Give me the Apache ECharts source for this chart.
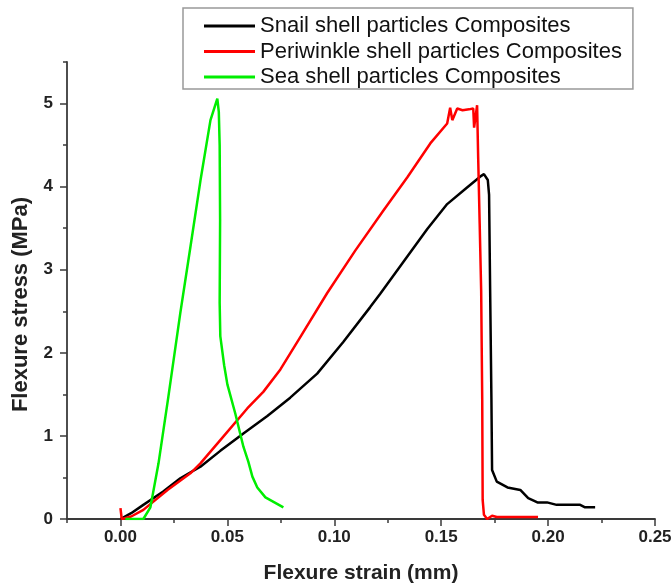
<!DOCTYPE html>
<html>
<head>
<meta charset="utf-8">
<script src="https://cdn.jsdelivr.net/npm/echarts@6/dist/echarts.min.js"></script>
<style>
html,body{margin:0;padding:0;background:#fff;}
#chart{width:672px;height:585px;}
</style>
</head>
<body>
<div id="chart"></div>
<script>
// ---- data ----
const seriesNames = ['Snail shell particles Composites', 'Periwinkle shell particles Composites', 'Sea shell particles Composites'];

const snailStrain = [0.000, 0.005, 0.0107, 0.020, 0.028, 0.0374, 0.0467, 0.0575, 0.0687, 0.0794, 0.092, 0.1042, 0.1168, 0.1215, 0.1322, 0.1435, 0.1528, 0.1621, 0.1682, 0.1700, 0.1718, 0.1724, 0.1729, 0.1735, 0.1738, 0.1760, 0.181, 0.187, 0.1907, 0.195, 0.1995, 0.204, 0.215, 0.2173, 0.222];
const snailStress = [0.00, 0.07, 0.17, 0.33, 0.49, 0.63, 0.82, 1.03, 1.24, 1.46, 1.75, 2.13, 2.55, 2.71, 3.09, 3.49, 3.79, 3.99, 4.12, 4.15, 4.08, 3.90, 2.75, 1.43, 0.59, 0.45, 0.38, 0.35, 0.25, 0.20, 0.20, 0.17, 0.17, 0.14, 0.14];

const periStrain = [0.000, 0.0006, 0.005, 0.0107, 0.022, 0.0327, 0.0374, 0.0467, 0.0593, 0.0668, 0.0748, 0.0841, 0.0967, 0.1098, 0.1229, 0.1341, 0.1449, 0.1528, 0.1542, 0.1552, 0.1575, 0.1600, 0.1630, 0.1650, 0.1654, 0.1668, 0.1673, 0.1680, 0.1687, 0.1692, 0.1694, 0.1700, 0.1715, 0.1738, 0.1760, 0.1953];
const periStress = [0.13, 0.00, 0.03, 0.11, 0.35, 0.55, 0.67, 0.95, 1.33, 1.53, 1.80, 2.19, 2.72, 3.23, 3.71, 4.11, 4.52, 4.76, 4.95, 4.80, 4.94, 4.92, 4.93, 4.94, 4.71, 4.98, 4.35, 3.56, 2.75, 1.43, 0.23, 0.05, 0.00, 0.04, 0.025, 0.024];

const seaStrain = [0.0023, 0.0107, 0.014, 0.0178, 0.0224, 0.028, 0.0327, 0.0374, 0.0421, 0.0453, 0.0460, 0.0464, 0.0466, 0.0464, 0.0467, 0.0485, 0.050, 0.0537, 0.0575, 0.0598, 0.0617, 0.064, 0.0678, 0.0762];
const seaStress = [0.00, 0.00, 0.14, 0.67, 1.47, 2.48, 3.27, 4.07, 4.80, 5.06, 4.90, 4.50, 3.60, 2.60, 2.20, 1.85, 1.62, 1.27, 0.87, 0.69, 0.51, 0.38, 0.26, 0.14];

const xTickLabels = [0, 0.05, 0.10, 0.15, 0.20, 0.25];
const yTickLabels = [0, 1, 2, 3, 4, 5];

const colors = ['#000000', '#ff0000', '#00ee00'];

function zip(a, b) { return a.map((v, i) => [v, b[i]]); }

const FONT = '"Liberation Sans", Arial, sans-serif';
const axisColor = '#3a3a3a';

const chart = echarts.init(document.getElementById('chart'), null, {renderer: 'canvas'});
chart.setOption({
  backgroundColor: '#ffffff',
  animation: false,
  grid: {left: 67, right: 17, top: 62, bottom: 66, containLabel: false, outerBoundsMode: 'none'},
  legend: {
    orient: 'vertical',
    left: 183, top: 8,
    padding: [7, 11, 1, 21],
    itemWidth: 51, itemHeight: 3, itemGap: 3.5,
    icon: 'rect',
    borderColor: '#999', borderWidth: 1.5,
    backgroundColor: '#fff',
    textStyle: {fontFamily: FONT, fontSize: 22, lineHeight: 22, color: '#111'},
    data: seriesNames
  },
  xAxis: [{
    type: 'value', position: 'bottom', min: -0.025, max: 0.25, interval: 0.025,
    splitLine: {show: false},
    axisLine: {onZero: false, lineStyle: {color: axisColor, width: 1.8}},
    axisTick: {inside: false, length: 4, lineStyle: {color: axisColor, width: 1.5}},
    axisLabel: {
      margin: 10, color: '#222', fontFamily: FONT, fontWeight: 'bold', fontSize: 17,
      formatter: function (v) {
        for (const t of xTickLabels) { if (Math.abs(v - t) < 1e-9) return t.toFixed(2); }
        return '';
      }
    },
    name: 'Flexure strain (mm)', nameLocation: 'middle', nameGap: 44,
    nameTextStyle: {fontFamily: FONT, fontWeight: 'bold', fontSize: 21, color: '#222'}
  }, {
    type: 'value', position: 'bottom', min: -0.025, max: 0.25, interval: 0.025,
    splitLine: {show: false},
    axisLine: {show: false, onZero: false},
    axisTick: {inside: false, length: 7, customValues: xTickLabels, lineStyle: {color: axisColor, width: 1.5}},
    axisLabel: {show: false}
  }],
  yAxis: [{
    type: 'value', position: 'left', min: 0, max: 5.5, interval: 0.5,
    splitLine: {show: false},
    axisLine: {show: true, onZero: false, lineStyle: {color: axisColor, width: 1.8}},
    axisTick: {show: true, inside: false, length: 4, lineStyle: {color: axisColor, width: 1.5}},
    axisLabel: {
      margin: 14, color: '#222', fontFamily: FONT, fontWeight: 'bold', fontSize: 17,
      formatter: function (v) {
        for (const t of yTickLabels) { if (Math.abs(v - t) < 1e-9) return String(t); }
        return '';
      }
    },
    name: 'Flexure stress (MPa)', nameLocation: 'middle', nameGap: 35,
    nameTextStyle: {fontFamily: FONT, fontWeight: 'bold', fontSize: 22, color: '#222', padding: [0, 28, 0, 0]}
  }, {
    type: 'value', position: 'left', min: 0, max: 5.5, interval: 0.5,
    splitLine: {show: false},
    axisLine: {show: false, onZero: false},
    axisTick: {show: true, inside: false, length: 7, customValues: yTickLabels, lineStyle: {color: axisColor, width: 1.5}},
    axisLabel: {show: false}
  }],
  series: [
    {name: seriesNames[0], type: 'line', data: zip(snailStrain, snailStress), showSymbol: false, symbol: 'none', z: 2,
     color: colors[0], lineStyle: {color: colors[0], width: 2.5}},
    {name: seriesNames[1], type: 'line', data: zip(periStrain, periStress), showSymbol: false, symbol: 'none', z: 3,
     color: colors[1], lineStyle: {color: colors[1], width: 2.5}},
    {name: seriesNames[2], type: 'line', data: zip(seaStrain, seaStress), showSymbol: false, symbol: 'none', z: 4,
     color: colors[2], lineStyle: {color: colors[2], width: 2.5}}
  ]
});
</script>
</body>
</html>
